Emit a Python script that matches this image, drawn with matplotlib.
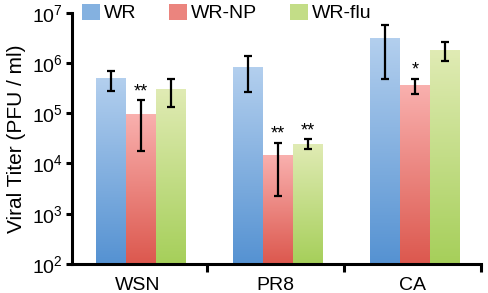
import numpy as np
import matplotlib
matplotlib.use("Agg")
import matplotlib.pyplot as plt
from matplotlib.patches import Rectangle
from matplotlib.colors import to_rgb

plt.rcParams['font.family'] = ['Liberation Sans', 'DejaVu Sans']
plt.rcParams['mathtext.fontset'] = 'custom'
plt.rcParams['mathtext.rm'] = 'Liberation Sans'

groups = ["WSN", "PR8", "CA"]
series = ["WR", "WR-NP", "WR-flu"]
values = {
    "WR":     [4.8e5, 8.0e5, 3.0e6],
    "WR-NP":  [9.4e4, 1.46e4, 3.5e5],
    "WR-flu": [3.0e5, 2.4e4, 1.8e6],
}
err_low = {
    "WR":     [2.8e5, 2.7e5, 4.8e5],
    "WR-NP":  [1.8e4, 2.3e3, 2.4e5],
    "WR-flu": [1.3e5, 1.9e4, 1.1e6],
}
err_high = {
    "WR":     [6.9e5, 1.4e6, 5.7e6],
    "WR-NP":  [1.8e5, 2.6e4, 4.8e5],
    "WR-flu": [4.8e5, 3.0e4, 2.6e6],
}
stars = {
    "WR":     ["", "", ""],
    "WR-NP":  ["**", "**", "*"],
    "WR-flu": ["", "**", ""],
}
top_colors = {"WR": "#b3cfee", "WR-NP": "#f9b0ae", "WR-flu": "#e0ebb4"}
bot_colors = {"WR": "#5592d2", "WR-NP": "#dc584e", "WR-flu": "#a6cf5a"}

fig = plt.figure(figsize=(4.88, 2.93), dpi=100)
ax = fig.add_axes([72/488, 1-264/293, (481-72)/488, (264-12.7)/293])
ax.set_yscale('log')
ymin, ymax = 1e2, 1e7
xmin, xmax = -0.48, 2.5
ax.set_ylim(ymin, ymax)
ax.set_xlim(xmin, xmax)

width = 0.218
offsets = [-0.218, 0.0, 0.218]
x = np.arange(len(groups)) + 0.02

def ax_y(v):
    return (np.log10(v) - np.log10(ymin)) / (np.log10(ymax) - np.log10(ymin))

def ax_x(v):
    return (v - xmin) / (xmax - xmin)

for s, off in zip(series, offsets):
    xs = x + off
    bars = ax.bar(xs, values[s], width=width, bottom=ymin, color='none', edgecolor='none', zorder=2)
    t = np.array(to_rgb(top_colors[s])); b = np.array(to_rgb(bot_colors[s]))
    frac = np.linspace(0, 1, 128)[:, None]
    grad = (b * (1 - frac) + t * frac)[:, None, :]
    for rect, v in zip(bars, values[s]):
        x0 = rect.get_x()
        ax.imshow(grad, extent=(ax_x(x0), ax_x(x0 + width), 0, ax_y(v)),
                  origin='lower', aspect='auto', interpolation='bilinear',
                  transform=ax.transAxes, zorder=2)
    v = np.array(values[s])
    yerr = np.vstack([v - np.array(err_low[s]), np.array(err_high[s]) - v])
    ax.errorbar(xs, v, yerr=yerr, fmt='none', ecolor='black', elinewidth=1.6,
                capsize=3.2, capthick=1.6, zorder=3)
    for xi, eh, st in zip(xs, err_high[s], stars[s]):
        if st:
            ax.annotate(st, (xi, eh), xytext=(0, 0), textcoords='offset points',
                        ha='center', va='bottom', fontsize=13, zorder=4)

ax.set_xlim(xmin, xmax)
ax.set_ylim(ymin, ymax)
ax.set_xticks(x - 0.02)
ax.set_xticklabels(groups, fontsize=14)
ax.set_xticks([0.5, 1.5, 2.5], minor=True)
ax.tick_params(axis='x', which='major', length=0, pad=9)
ax.tick_params(axis='x', which='minor', length=6, width=2.2, direction='out')
ax.tick_params(axis='y', which='major', length=4.5, width=2.2, labelsize=14, pad=2)
ax.tick_params(axis='y', which='minor', length=0)
for sp in ['top', 'right']:
    ax.spines[sp].set_visible(False)
for sp in ['left', 'bottom']:
    ax.spines[sp].set_linewidth(2.2)
    ax.spines[sp].set_zorder(5)
ax.set_ylabel("Viral Titer (PFU / ml)", fontsize=15, labelpad=4)

handles = [Rectangle((0, 0), 1, 1, facecolor=tuple((np.array(to_rgb(top_colors[s])) + np.array(to_rgb(bot_colors[s]))) / 2),
                     edgecolor='none') for s in series]
ax.legend(handles, series, loc='upper left', bbox_to_anchor=(82/488, 1 - 4/293),
          bbox_transform=fig.transFigure, ncol=3, frameon=False, fontsize=14,
          handlelength=0.95, handleheight=0.85, handletextpad=0.2, columnspacing=1.65,
          borderpad=0, borderaxespad=0)

fig.savefig("out.png", dpi=100)
